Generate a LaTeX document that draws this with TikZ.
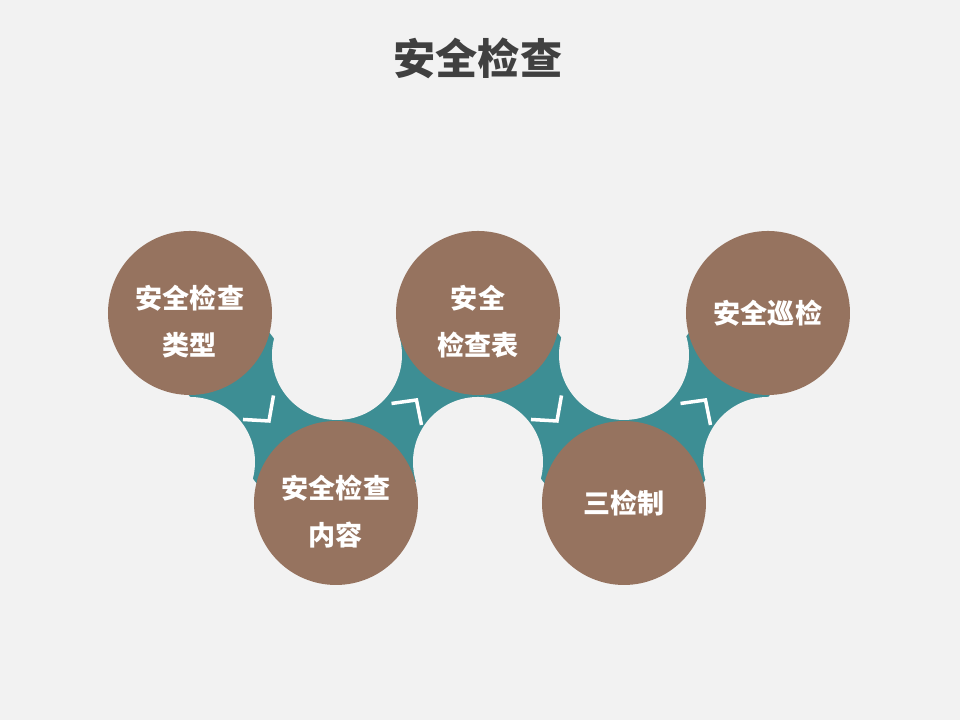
\documentclass[tikz,border=0pt]{standalone}
\usepackage{fontspec}
\usetikzlibrary{calc,backgrounds}
\newfontfamily\cjk{Noto Sans CJK SC}
\definecolor{Paper}{HTML}{F2F2F2}
\definecolor{Brown}{HTML}{96735F}
\definecolor{Teal}{HTML}{3D8E94}
\definecolor{Ink}{HTML}{404040}

\begin{document}
\begin{tikzpicture}[
    ball/.style={circle,fill=Brown,minimum size=1.64cm,inner sep=0pt,
      text=white,align=center,font=\cjk\bfseries\fontsize{7.7}{13.6}\selectfont},
    pair/.style={text height=25.2pt},
    band/.style={draw=Teal,line width=1.02cm,line join=round,line cap=round},
    hole/.style={fill=Paper},
    tick/.style={draw=white,line width=1pt},
    title/.style={font=\cjk\bfseries\fontsize{12}{14}\selectfont,text=Ink}
  ]
    \useasboundingbox (0,0) rectangle (9.6,7.2);
    \node[title] (head) at (4.78,6.62) {安全检查};
    \node[ball,pair] (kind) at (1.90,4.07) {安全检查\\类型};
    \node[ball,pair] (content) at (3.36,2.17) {安全检查\\内容};
    \node[ball,pair] (sheet) at (4.78,4.07) {安全\\检查表};
    \node[ball] (three) at (6.24,2.17) {三检制};
    \node[ball] (patrol) at (7.68,4.07) {安全巡检};
    \begin{scope}[on background layer]
      \fill[Paper] (0,0) rectangle (9.6,7.2);
      \draw[band] (kind.center) -- (content.center) -- (sheet.center)
        -- (three.center) -- (patrol.center);
      \foreach \p in {(3.37,3.65),(6.24,3.65),(1.90,2.58),(4.78,2.58),(7.68,2.58)}
        \fill[hole] \p circle (0.65);
    \end{scope}
    \draw[tick] ($(kind.center)!0.5!(content.center)$) ++(-0.20,-0.115)
      -- ++(0.26,-0.015) -- ++(0.045,0.255);
    \draw[tick] ($(content.center)!0.5!(sheet.center)$) ++(-0.155,0.045)
      -- ++(0.25,0.035) -- ++(0.05,-0.25);
    \draw[tick] ($(sheet.center)!0.5!(three.center)$) ++(-0.20,-0.115)
      -- ++(0.26,-0.015) -- ++(0.045,0.255);
    \draw[tick] ($(three.center)!0.5!(patrol.center)$) ++(-0.155,0.045)
      -- ++(0.25,0.035) -- ++(0.05,-0.25);
  \end{tikzpicture}
\end{document}
